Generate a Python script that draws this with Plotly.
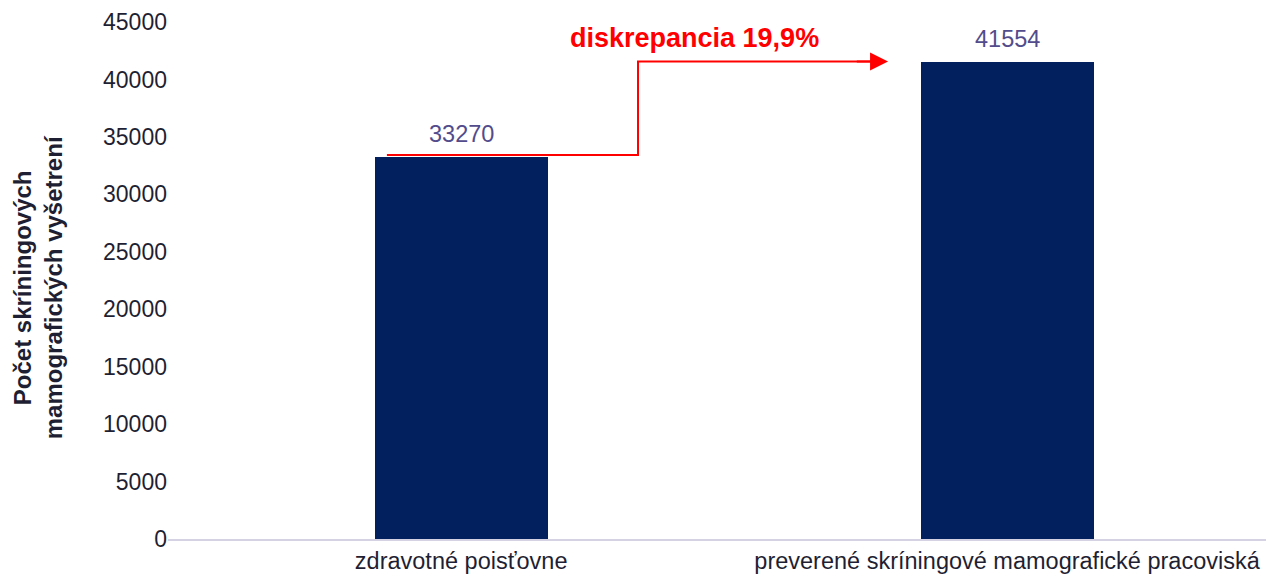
import plotly.graph_objects as go

categories = ["zdravotné poisťovne", "preverené skríningové mamografické pracoviská"]
values = [33270, 41554]
y_ticks = [0, 5000, 10000, 15000, 20000, 25000, 30000, 35000, 40000, 45000]
y_title = "Počet skríningových<br>mamografických vyšetrení"
discrepancy_label = "diskrepancia 19,9%"

FONT = "Liberation Sans, Arial, sans-serif"
BAR = "#03205e"
LABEL = "#524c8c"
RED = "#ff0000"
DARK = "#1f1f33"

fig = go.Figure()
fig.add_trace(go.Bar(
    x=[0, 1], y=values, width=0.317,
    marker=dict(color=BAR, line=dict(width=0)),
    hoverinfo="skip",
))
for i, v in enumerate(values):
    fig.add_annotation(
        x=i, y=v, xref="x", yref="y", text=str(v), showarrow=False,
        yanchor="bottom", yshift=8,
        font=dict(family=FONT, size=23.5, color=LABEL),
    )

# step line from first bar top to second bar level
x_start, x_mid, x_end = -0.136, 0.324, 0.782
fig.add_trace(go.Scatter(
    x=[x_start, x_mid, x_mid, x_end - 0.03],
    y=[values[0] + 150, values[0] + 150, values[1], values[1]],
    mode="lines", line=dict(color=RED, width=2),
    hoverinfo="skip", showlegend=False, cliponaxis=False,
))
fig.add_annotation(
    x=x_end, y=values[1], ax=x_end - 0.06, ay=values[1],
    xref="x", yref="y", axref="x", ayref="y",
    showarrow=True, arrowhead=2, arrowsize=1.8, arrowwidth=2, arrowcolor=RED, text="",
)
fig.add_annotation(
    x=0.428, y=values[1] + 2050, xref="x", yref="y",
    text="<b>" + discrepancy_label + "</b>", showarrow=False,
    font=dict(family=FONT, size=27, color=RED),
)
fig.add_annotation(
    x=-0.1175, y=0.487, xref="paper", yref="paper",
    text="<b>" + y_title + "</b>", showarrow=False, textangle=-90,
    xanchor="center", yanchor="middle",
    font=dict(family=FONT, size=24, color=DARK),
)

fig.update_layout(
    width=1266, height=571,
    margin=dict(l=160, r=0, t=14, b=40),
    plot_bgcolor="white", paper_bgcolor="white",
    showlegend=False, bargap=0,
    font=dict(family=FONT, size=23, color=DARK),
)
fig.update_xaxes(
    range=[-0.537, 1.489], tickmode="array", tickvals=[0, 1], ticktext=categories,
    showline=True, linecolor="#d5d3e3", linewidth=2, showgrid=False, zeroline=False,
    ticks="", tickfont=dict(family=FONT, size=23.5, color=DARK), automargin=False,
)
fig.update_yaxes(
    range=[0, 45000], tickmode="array", tickvals=y_ticks, ticktext=[str(t) for t in y_ticks],
    showgrid=False, zeroline=False, showline=False, ticks="",
    automargin=False,
    tickfont=dict(family=FONT, size=23, color=DARK),
)

fig.write_html("out.html")
